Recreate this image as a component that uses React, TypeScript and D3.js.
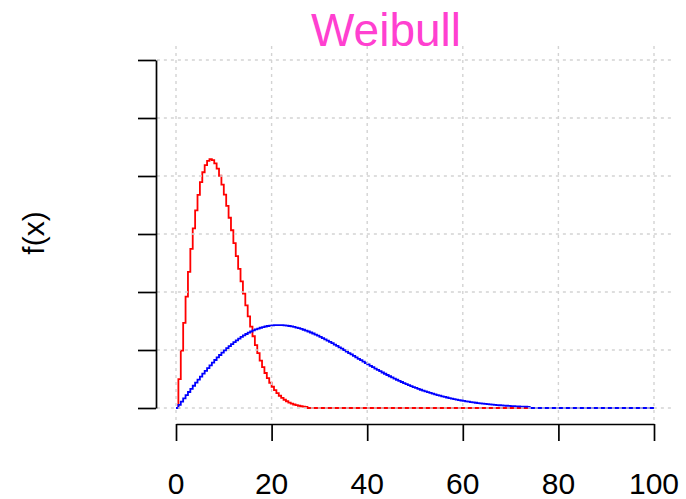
import { useEffect, useRef } from "react";
import * as d3 from "d3";

// red curve, read every 0.5
const RED_X = [
  0, 0.5, 1, 1.5, 2, 2.5, 3, 3.5, 4, 4.5, 5, 5.5, 6, 6.5, 7, 7.5, 8, 8.5, 9, 9.5,
  10, 10.5, 11, 11.5, 12, 12.5, 13, 13.5, 14, 14.5, 15, 15.5, 16, 16.5, 17, 17.5,
  18, 18.5, 19, 19.5, 20, 20.5, 21, 21.5, 22, 22.5, 23, 23.5, 24, 24.5, 25, 25.5,
  26, 26.5, 27, 27.5, 100,
];
const RED_Y = [
  0, 0.00998, 0.0198, 0.02933, 0.03843, 0.04697, 0.05484, 0.06193, 0.06817, 0.0735,
  0.07788, 0.08129, 0.08372, 0.0852, 0.08577, 0.08547, 0.08437, 0.08254, 0.08008, 0.07706,
  0.07358, 0.06973, 0.0656, 0.06129, 0.05686, 0.0524, 0.04798, 0.04364, 0.03944, 0.03542,
  0.03162, 0.02805, 0.02474, 0.02168, 0.0189, 0.01637, 0.0141, 0.01207, 0.01028, 0.0087,
  0.00733, 0.00613, 0.00511, 0.00423, 0.00348, 0.00285, 0.00232, 0.00188, 0.00151, 0.00121,
  0.00097, 0.00077, 0.0006, 0.00047, 0.00037, 0, 0,
];

// blue curve, read every 0.5
const BLUE_X = [
  0, 0.5, 1, 1.5, 2, 2.5, 3, 3.5, 4, 4.5, 5, 5.5, 6, 6.5, 7, 7.5, 8, 8.5, 9, 9.5,
  10, 10.5, 11, 11.5, 12, 12.5, 13, 13.5, 14, 14.5, 15, 15.5, 16, 16.5, 17, 17.5,
  18, 18.5, 19, 19.5, 20, 20.5, 21, 21.5, 22, 22.5, 23, 23.5, 24, 24.5, 25, 25.5,
  26, 26.5, 27, 27.5, 28, 28.5, 29, 29.5, 30, 30.5, 31, 31.5, 32, 32.5, 33, 33.5,
  34, 34.5, 35, 35.5, 36, 36.5, 37, 37.5, 38, 38.5, 39, 39.5, 40, 40.5, 41, 41.5,
  42, 42.5, 43, 43.5, 44, 44.5, 45, 45.5, 46, 46.5, 47, 47.5, 48, 48.5, 49, 49.5,
  50, 50.5, 51, 51.5, 52, 52.5, 53, 53.5, 54, 54.5, 55, 55.5, 56, 56.5, 57, 57.5,
  58, 58.5, 59, 59.5, 60, 60.5, 61, 61.5, 62, 62.5, 63, 63.5, 64, 64.5, 65, 65.5,
  66, 66.5, 67, 67.5, 68, 68.5, 69, 69.5, 70, 70.5, 71, 71.5, 72, 72.5, 73, 73.5,
  74, 100,
];
const BLUE_Y = [
  0, 0.00111, 0.00222, 0.00333, 0.00443, 0.00552, 0.0066, 0.00767, 0.00873, 0.00978,
  0.01081, 0.01182, 0.01281, 0.01378, 0.01473, 0.01566, 0.01656, 0.01743, 0.01828, 0.0191,
  0.01989, 0.02064, 0.02137, 0.02206, 0.02272, 0.02335, 0.02394, 0.0245, 0.02502, 0.02551,
  0.02596, 0.02638, 0.02675, 0.0271, 0.0274, 0.02767, 0.02791, 0.02811, 0.02827, 0.0284,
  0.0285, 0.02856, 0.02859, 0.02859, 0.02855, 0.02849, 0.0284, 0.02827, 0.02812, 0.02795,
  0.02774, 0.02751, 0.02726, 0.02699, 0.02669, 0.02638, 0.02604, 0.02569, 0.02531, 0.02493,
  0.02453, 0.02411, 0.02368, 0.02324, 0.02279, 0.02234, 0.02187, 0.02139, 0.02092, 0.02043,
  0.01994, 0.01945, 0.01895, 0.01846, 0.01796, 0.01747, 0.01697, 0.01648, 0.01599, 0.01551,
  0.01502, 0.01455, 0.01407, 0.01361, 0.01315, 0.01269, 0.01225, 0.01181, 0.01138, 0.01095,
  0.01054, 0.01013, 0.00974, 0.00935, 0.00897, 0.0086, 0.00825, 0.0079, 0.00756, 0.00723,
  0.00691, 0.0066, 0.0063, 0.00601, 0.00573, 0.00546, 0.0052, 0.00494, 0.0047, 0.00447,
  0.00424, 0.00402, 0.00382, 0.00362, 0.00343, 0.00324, 0.00307, 0.0029, 0.00274, 0.00259,
  0.00244, 0.0023, 0.00217, 0.00205, 0.00193, 0.00181, 0.0017, 0.0016, 0.0015, 0.00141,
  0.00132, 0.00124, 0.00116, 0.00109, 0.00102, 0.00095, 0.00089, 0.00083, 0.00077, 0.00072,
  0.00067, 0.00063, 0.00058, 0.00054, 0.0005, 0.00047, 0.00044, 0.0004,
  0, 0,
];

const X_TICKS = [0, 20, 40, 60, 80, 100];
const Y_TICKS = [0, 0.02, 0.04, 0.06, 0.08, 0.1, 0.12];

const W = 686, H = 499;
const FONT = "'Liberation Sans', Arial, Helvetica, sans-serif";

export default function App() {
  const svgRef = useRef<SVGSVGElement>(null);

  useEffect(() => {
    if (!svgRef.current) return;
    const svg = d3.select(svgRef.current);
    svg.selectAll("*").remove();

    const x = d3.scaleLinear().domain([0, 100]).range([176, 654]);
    const y = d3.scaleLinear().domain([0, 0.12]).range([408, 60]);
    // plot region (R's 4% padding)
    const px0 = x(-4), px1 = x(104);
    const py0 = y(-0.0048), py1 = y(0.1248);

    svg.append("rect").attr("width", W).attr("height", H).attr("fill", "#fff");

    // --- Curves (type = "s") ---
    const line = d3.line<[number, number]>()
      .x((d) => x(d[0]))
      .y((d) => y(d[1]))
      .curve(d3.curveStepAfter);

    const series = [
      { xs: RED_X, ys: RED_Y, color: "#ff0000" },
      { xs: BLUE_X, ys: BLUE_Y, color: "#0000ff" },
    ];
    series.forEach((s) => {
      svg.append("path")
        .datum(s.xs.map((v, i) => [v, s.ys[i]] as [number, number]))
        .attr("fill", "none")
        .attr("stroke", s.color)
        .attr("stroke-width", 1.8)
        .attr("d", line);
    });

    // --- Grid (drawn on top, like grid() after lines) ---
    const grid = svg.append("g")
      .attr("stroke", "#d3d3d3")
      .attr("stroke-width", 1.4)
      .attr("stroke-dasharray", "3,4");
    X_TICKS.forEach((t) => {
      grid.append("line")
        .attr("x1", x(t)).attr("x2", x(t))
        .attr("y1", py1).attr("y2", py0);
    });
    Y_TICKS.forEach((t) => {
      grid.append("line")
        .attr("x1", px0).attr("x2", px1)
        .attr("y1", y(t)).attr("y2", y(t));
    });

    // --- Axes ---
    const xAxisG = svg.append("g")
      .attr("transform", "translate(0,424)")
      .call(d3.axisBottom(x).tickValues(X_TICKS).tickSize(17).tickSizeOuter(0).tickFormat(() => ""));
    xAxisG.select(".domain").attr("stroke", "#000").attr("stroke-width", 1.7);
    xAxisG.selectAll(".tick line").attr("stroke", "#000").attr("stroke-width", 1.7);

    const yAxisG = svg.append("g")
      .attr("transform", "translate(156,0)")
      .call(d3.axisLeft(y).tickValues(Y_TICKS).tickSize(18).tickSizeOuter(0).tickFormat(() => ""));
    yAxisG.select(".domain").attr("stroke", "#000").attr("stroke-width", 1.7);
    yAxisG.selectAll(".tick line").attr("stroke", "#000").attr("stroke-width", 1.7);

    svg.append("g")
      .selectAll("text")
      .data(X_TICKS)
      .join("text")
      .attr("x", (d) => x(d))
      .attr("y", 494)
      .attr("text-anchor", "middle")
      .attr("font-family", FONT)
      .attr("font-size", 30)
      .attr("fill", "#000")
      .text((d) => String(d));

    // y label
    svg.append("text")
      .attr("transform", "translate(44,233) rotate(-90)")
      .attr("text-anchor", "middle")
      .attr("font-family", FONT)
      .attr("font-size", 30)
      .attr("fill", "#000")
      .text("f(x)");

    // title
    svg.append("text")
      .attr("x", 386)
      .attr("y", 46)
      .attr("text-anchor", "middle")
      .attr("font-family", FONT)
      .attr("font-size", 46)
      .attr("fill", "#ff40d0")
      .text("Weibull");
  }, []);

  return (
    <div style={{ position: "fixed", left: 0, top: 0, width: W, height: H }}>
      <svg ref={svgRef} width={W} height={H} style={{ display: "block" }} />
    </div>
  );
}
